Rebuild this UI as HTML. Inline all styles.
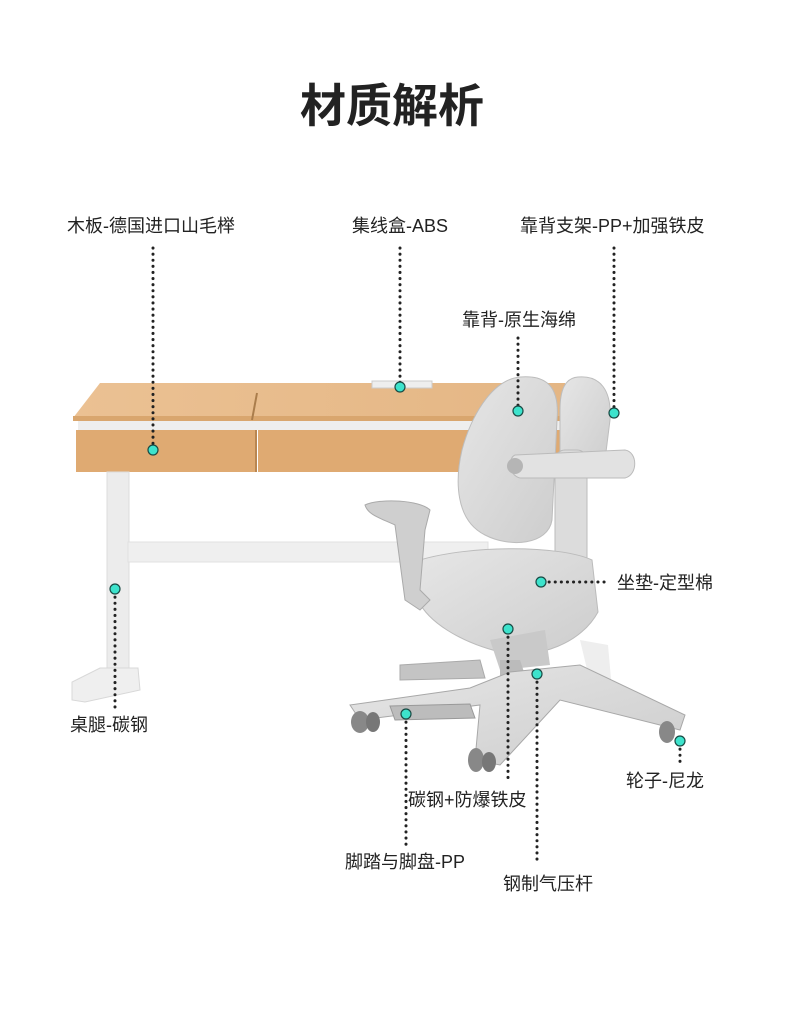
<!DOCTYPE html>
<html><head><meta charset="utf-8"><style>
body{margin:0;background:#fff;width:790px;height:1022px;overflow:hidden;}
svg{display:block}
text{font-family:"Liberation Sans","Noto Sans CJK SC",sans-serif;fill:#222;}
</style></head><body>
<svg width="790" height="1022" viewBox="0 0 790 1022">
<defs>
<linearGradient id="wood" x1="0" y1="0" x2="1" y2="0"><stop offset="0" stop-color="#ebc193"/><stop offset="1" stop-color="#e4b684"/></linearGradient>
<linearGradient id="gr" x1="0" y1="0" x2="1" y2="1"><stop offset="0" stop-color="#e6e6e6"/><stop offset="1" stop-color="#cdcdcd"/></linearGradient>
</defs>
<text x="392" y="122" font-size="46" font-weight="bold" text-anchor="middle" style="font-family:'Noto Sans CJK SC',sans-serif" fill="#111">材质解析</text>

<!-- desk -->
<path d="M100 383 L565 383 L575 418 L73 418 Z" fill="url(#wood)"/>
<rect x="73" y="416" width="520" height="5" fill="#d9a66e"/>
<rect x="78" y="421" width="520" height="9" fill="#eee"/>
<rect x="76" y="430" width="180" height="42" fill="#dfaa72"/>
<rect x="258" y="430" width="340" height="42" fill="#dfaa72"/>
<line x1="256" y1="430" x2="256" y2="472" stroke="#b98651" stroke-width="2"/>
<line x1="257" y1="393" x2="252" y2="420" stroke="#aa7d4c" stroke-width="2"/>
<rect x="372" y="381" width="60" height="7" fill="#eee" stroke="#ccc"/>
<rect x="107" y="472" width="22" height="200" fill="#ececec" stroke="#ddd"/>
<rect x="128" y="542" width="360" height="20" fill="#efefef" stroke="#e0e0e0"/>
<path d="M100 668 L138 668 L140 690 L85 702 L72 700 L72 682 Z" fill="#efefef" stroke="#d8d8d8"/>
<path d="M580 640 L608 645 L612 690 L592 690 Z" fill="#eeeeee"/>

<!-- chair -->
<path d="M520 377 C545 375 560 385 557 420 L552 520 C548 545 510 548 485 535 C455 520 455 480 462 450 C470 420 490 380 520 377Z" fill="url(#gr)" stroke="#bdbdbd"/>
<path d="M578 377 C600 375 612 390 610 420 L605 460 L560 470 L560 410 C560 390 565 378 578 377Z" fill="url(#gr)" stroke="#bdbdbd"/>
<rect x="555" y="450" width="32" height="140" rx="10" fill="#dcdcdc" stroke="#bbb"/>
<path d="M515 455 L625 450 C638 452 638 475 625 478 L520 478 C508 475 508 458 515 455Z" fill="#e2e2e2" stroke="#bbb"/>
<circle cx="515" cy="466" r="8" fill="#b5b5b5"/>
<path d="M420 560 C470 545 560 545 592 560 L598 612 C582 642 540 660 500 652 C460 642 428 622 418 600 Z" fill="url(#gr)" stroke="#bbb"/>
<path d="M365 505 C380 498 420 500 430 510 L425 530 L420 590 L430 600 L420 610 L405 600 L395 525 C380 518 368 515 365 505Z" fill="#cfcfcf" stroke="#aaa"/>
<path d="M490 640 L545 630 L550 665 L500 670 Z" fill="#c9c9c9"/>
<path d="M500 660 L520 660 L530 690 L500 690 Z" fill="#bbb"/>
<path d="M400 665 L480 660 L485 678 L400 680 Z" fill="#c4c4c4" stroke="#aaa"/>
<path d="M510 672 L580 665 L685 715 L680 730 L560 700 L500 765 L475 760 L480 705 L360 720 L350 705 L470 688 Z" fill="url(#gr)" stroke="#a8a8a8"/>
<path d="M390 706 L470 704 L475 718 L395 720 Z" fill="#bcbcbc" stroke="#999"/>
<ellipse cx="360" cy="722" rx="9" ry="11" fill="#888"/>
<ellipse cx="373" cy="722" rx="7" ry="10" fill="#777"/>
<ellipse cx="476" cy="760" rx="8" ry="12" fill="#888"/>
<ellipse cx="489" cy="762" rx="7" ry="10" fill="#777"/>
<ellipse cx="667" cy="732" rx="8" ry="11" fill="#888"/>

<!-- dotted lines -->
<g stroke="#222" stroke-width="3" stroke-dasharray="0.1 6" stroke-linecap="round" fill="none">
<line x1="153" y1="248" x2="153" y2="448"/>
<line x1="400" y1="248" x2="400" y2="385"/>
<line x1="614" y1="248" x2="614" y2="411"/>
<line x1="518" y1="338" x2="518" y2="409"/>
<line x1="543" y1="582" x2="610" y2="582"/>
<line x1="115" y1="591" x2="115" y2="712"/>
<line x1="508" y1="631" x2="508" y2="778"/>
<line x1="537" y1="676" x2="537" y2="864"/>
<line x1="406" y1="716" x2="406" y2="847"/>
<line x1="680" y1="743" x2="680" y2="766"/>
</g>
<g fill="#3de3cc" stroke="#1a4a44" stroke-width="1.2">
<circle cx="153" cy="450" r="5"/><circle cx="400" cy="387" r="5"/><circle cx="518" cy="411" r="5"/>
<circle cx="614" cy="413" r="5"/><circle cx="115" cy="589" r="5"/><circle cx="541" cy="582" r="5"/>
<circle cx="508" cy="629" r="5"/><circle cx="537" cy="674" r="5"/><circle cx="406" cy="714" r="5"/>
<circle cx="680" cy="741" r="5"/>
</g>

<g font-size="18">
<text x="67" y="232">木板-德国进口山毛榉</text>
<text x="400" y="232" text-anchor="middle">集线盒-ABS</text>
<text x="520" y="232">靠背支架-PP+加强铁皮</text>
<text x="462" y="326">靠背-原生海绵</text>
<text x="617" y="589">坐垫-定型棉</text>
<text x="70" y="731">桌腿-碳钢</text>
<text x="626" y="787">轮子-尼龙</text>
<text x="408" y="806">碳钢+防爆铁皮</text>
<text x="345" y="868">脚踏与脚盘-PP</text>
<text x="503" y="890">钢制气压杆</text>
</g>
</svg>
</body></html>
